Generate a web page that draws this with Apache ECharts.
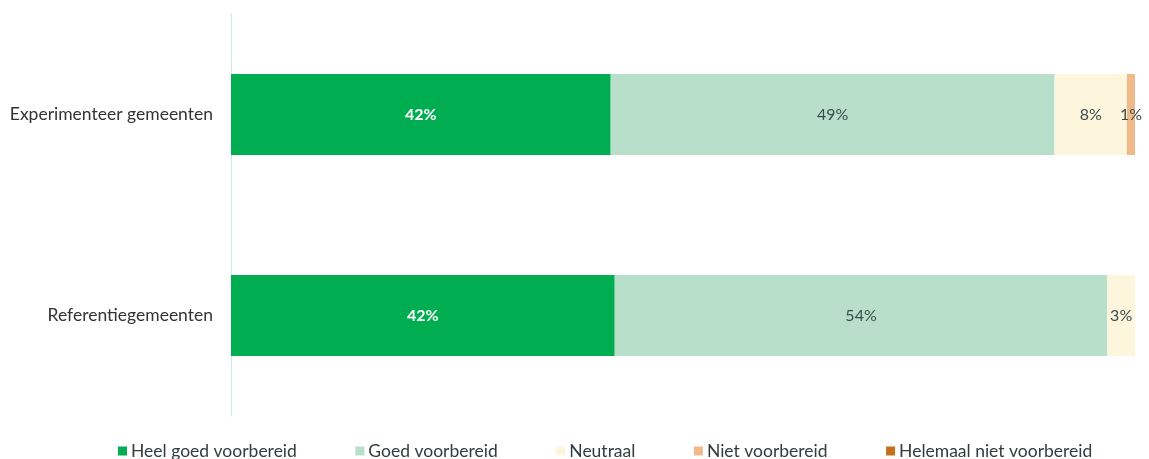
<!DOCTYPE html>
<html>
<head>
<meta charset="utf-8">
<script src="https://cdn.jsdelivr.net/npm/echarts@6/dist/echarts.min.js"></script>
<style>html,body{margin:0;padding:0;background:#fff;}#c{width:1149px;height:459px;}</style>
</head>
<body>
<div id="c"></div>
<script>
var categories = ['Experimenteer gemeenten', 'Referentiegemeenten'];
var seriesNames = ['Heel goed voorbereid', 'Goed voorbereid', 'Neutraal', 'Niet voorbereid', 'Helemaal niet voorbereid'];
var heelGoed = [42.0, 42.45];
var goed = [49.1, 54.49];
var neutraal = [8.0, 3.06];
var niet = [0.9, 0];
var helemaalNiet = [0, 0];
var colors = ['#00ad50', '#b8dfca', '#fdf5dc', '#f0b989', '#c5701f'];
var labelColors = ['#ffffff', '#3b4c4c', '#3b4c4c', '#3b4c4c', '#3b4c4c'];
var allData = [heelGoed, goed, neutraal, niet, helemaalNiet];

var chart = echarts.init(document.getElementById('c'));
var series = seriesNames.map(function (name, i) {
  return {
    name: name,
    type: 'bar',
    stack: 'total',
    barWidth: 81,
    data: allData[i],
    itemStyle: { color: colors[i] },
    label: {
      show: true,
      position: 'inside',
      color: labelColors[i],
      fontFamily: 'Lato',
      fontSize: 16,
      fontWeight: i === 0 ? 'bold' : 'normal',
      formatter: function (p) { return p.value > 0 ? Math.round(p.value) + '%' : ''; }
    }
  };
});

chart.setOption({
  animation: false,
  grid: { left: 231, right: 14, top: 14, bottom: 43 },
  legend: {
    top: 437,
    left: 113,
    itemWidth: 9,
    itemHeight: 9,
    itemGap: 58.5,
    icon: 'rect',
    textStyle: { fontFamily: 'Lato', fontSize: 17.5, color: '#2f3d3d', padding: [0, 0, 0, -1] },
    data: seriesNames
  },
  xAxis: {
    type: 'value',
    min: 0,
    max: 100,
    show: false
  },
  yAxis: {
    type: 'category',
    data: categories,
    inverse: true,
    axisLine: { show: true, lineStyle: { color: '#cce8e9', width: 1 } },
    axisTick: { show: false },
    axisLabel: { fontFamily: 'Lato', fontSize: 17.5, color: '#333333', margin: 18 }
  },
  series: series
});
</script>
</body>
</html>
